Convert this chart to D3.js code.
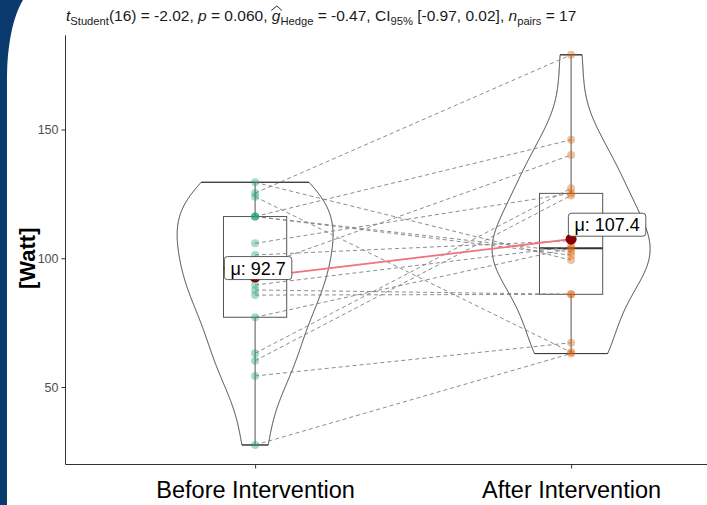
<!DOCTYPE html>
<html><head><meta charset="utf-8">
<script src="https://cdn.jsdelivr.net/npm/d3@7"></script>
<style>
body{margin:0;background:#fff;}
svg{display:block;font-family:"Liberation Sans",Arial,Helvetica,sans-serif;}
</style>
</head><body>
<svg id="chart" width="707" height="505"></svg>
<script>
// ---- data ----
const categories = ["Before Intervention", "After Intervention"];
const beforeValues = [129.5,125.3,123.9,116.2,116.2,116.2,105.8,101.3,96.3,89.6,87.7,85.7,77.1,63.1,60.2,54.3,27.5];
const afterValues  = [99.3,179.0,63.5,146.0,101.2,102.5,125.2,106.8,140.1,104.5,86.0,86.0,103.9,127.2,124.4,67.2,63.0];
const yTicks = [50, 100, 150];
const groupColors = ["#1b9e77", "#d95f02"];
const yTitle = "[Watt]";

const svg = d3.select("#chart");
const W = 707, H = 505;

// slide background (blue band with rounded white panel)
svg.append("rect").attr("width", W).attr("height", H).attr("fill", "#0b3a6e");
svg.append("path")
  .attr("d", `M7,${H} L7,78 C7,46 13,16 23,0 L${W},0 L${W},${H} Z`)
  .attr("fill", "#fff");

// ---- scales ----
const all = beforeValues.concat(afterValues);
const lo = d3.min(all), hi = d3.max(all), pad = (hi - lo) * 0.05;
const y = d3.scaleLinear().domain([lo - pad, hi + pad]).range([464.5, 35.3]);
const x = d3.scaleLinear().domain([0.4, 2.6]).range([65.5, 65.5 + 2.2 * 316]);

const groups = [beforeValues, afterValues];

// ---- violins ----
function nrd0(v) {
  const s = d3.deviation(v);
  const sorted = v.slice().sort(d3.ascending);
  const iqr = d3.quantileSorted(sorted, 0.75) - d3.quantileSorted(sorted, 0.25);
  return 0.9 * Math.min(s, iqr / 1.34) * Math.pow(v.length, -0.2);
}
function kde(v) {
  const bw = nrd0(v), mn = d3.min(v), mx = d3.max(v), n = 512;
  const out = [];
  for (let i = 0; i < n; i++) {
    const t = mn + (mx - mn) * i / (n - 1);
    let s = 0;
    for (const d of v) { const u = (t - d) / bw; s += Math.exp(-0.5 * u * u); }
    out.push({v: t, d: s / (v.length * bw * Math.sqrt(2 * Math.PI))});
  }
  return out;
}
const dens = groups.map(v => kde(v));
const maxD = d3.max(dens, g => d3.max(g, p => p.d));
const halfW = 0.25 * 316;
dens.forEach((g, i) => {
  const cx = x(i + 1);
  const area = d3.area()
    .y(p => y(p.v))
    .x0(p => cx - p.d / maxD * halfW)
    .x1(p => cx + p.d / maxD * halfW);
  svg.append("path").attr("d", area(g))
    .attr("fill", "none").attr("stroke", "#3a3a3a").attr("stroke-width", 1);
  const top = g[g.length - 1], bot = g[0];
  [top, bot].forEach(p => {
    svg.append("line").attr("x1", cx - p.d / maxD * halfW).attr("x2", cx + p.d / maxD * halfW)
      .attr("y1", y(p.v)).attr("y2", y(p.v)).attr("stroke", "#3a3a3a").attr("stroke-width", 1);
  });
});

// ---- boxplots ----
const boxHalf = 0.1 * 316;
groups.forEach((v, i) => {
  const s = v.slice().sort(d3.ascending);
  const q1 = d3.quantileSorted(s, 0.25), q2 = d3.quantileSorted(s, 0.5), q3 = d3.quantileSorted(s, 0.75);
  const iqr = q3 - q1;
  const wLo = d3.min(s.filter(d => d >= q1 - 1.5 * iqr));
  const wHi = d3.max(s.filter(d => d <= q3 + 1.5 * iqr));
  const cx = x(i + 1);
  const g = svg.append("g").attr("stroke", "#555").attr("stroke-width", 1).attr("fill", "none");
  g.append("line").attr("x1", cx).attr("x2", cx).attr("y1", y(wHi)).attr("y2", y(q3));
  g.append("line").attr("x1", cx).attr("x2", cx).attr("y1", y(q1)).attr("y2", y(wLo));
  g.append("rect").attr("x", cx - boxHalf).attr("width", 2 * boxHalf)
    .attr("y", y(q3)).attr("height", y(q1) - y(q3));
  g.append("line").attr("x1", cx - boxHalf).attr("x2", cx + boxHalf)
    .attr("y1", y(q2)).attr("y2", y(q2)).attr("stroke", "#333").attr("stroke-width", 1.8);
});

// ---- paired lines ----
svg.append("g").selectAll("line").data(beforeValues).join("line")
  .attr("x1", x(1)).attr("x2", x(2))
  .attr("y1", d => y(d)).attr("y2", (d, i) => y(afterValues[i]))
  .attr("stroke", "#7f7f7f").attr("stroke-width", 0.9)
  .attr("stroke-dasharray", "4,3");

// ---- points ----
groups.forEach((v, i) => {
  svg.append("g").selectAll("circle").data(v).join("circle")
    .attr("cx", x(i + 1)).attr("cy", d => y(d)).attr("r", 4)
    .attr("fill", groupColors[i]).attr("fill-opacity", 0.38);
});

// ---- axes ----
const axisColor = "#333";
const yAxis = svg.append("g").attr("transform", `translate(${x(0.4)},0)`)
  .call(d3.axisLeft(y).tickValues(yTicks).tickSize(4).tickPadding(3));
yAxis.select(".domain").attr("stroke", axisColor).attr("d", `M0,${y.range()[0]}V${y.range()[1]}`);
yAxis.selectAll(".tick line").attr("stroke", axisColor);
yAxis.selectAll(".tick text").attr("fill", "#4d4d4d").style("font-size", "12.5px")
  .style("font-family", "Liberation Sans, Arial, sans-serif");

const xAxis = svg.append("g").attr("transform", `translate(0,${y.range()[0]})`)
  .call(d3.axisBottom(x).tickValues([1, 2]).tickFormat(d => categories[d - 1]).tickSize(4).tickPadding(13));
xAxis.select(".domain").attr("stroke", axisColor).attr("d", `M${x(0.4)},0H${W + 5}`);
xAxis.selectAll(".tick line").attr("stroke", axisColor);
xAxis.selectAll(".tick text").attr("fill", "#000").style("font-size", "23.5px")
  .style("font-family", "Liberation Sans, Arial, sans-serif");

svg.append("text").attr("transform", `translate(35,${y(100)}) rotate(-90)`)
  .attr("text-anchor", "middle").style("font-size", "22px").style("font-weight", "bold")
  .text(yTitle);

// ---- means ----
const means = groups.map(v => d3.mean(v));
svg.append("line").attr("x1", x(1)).attr("x2", x(2))
  .attr("y1", y(means[0])).attr("y2", y(means[1]))
  .attr("stroke", "#f2737b").attr("stroke-width", 1.8);
svg.append("g").selectAll("circle").data(means).join("circle")
  .attr("cx", (d, i) => x(i + 1)).attr("cy", d => y(d)).attr("r", 5.5)
  .attr("fill", "#8b0000");

const labelOffsets = [[3, -9], [36, -14.5]];
means.forEach((m, i) => {
  const cx = x(i + 1) + labelOffsets[i][0], cy = y(m) + labelOffsets[i][1];
  const g = svg.append("g");
  const t = g.append("text").attr("x", cx).attr("y", cy).attr("text-anchor", "middle")
    .attr("dy", "0.36em").style("font-size", "18px").text("μ: " + m.toFixed(1));
  const w = t.node().getComputedTextLength();
  g.insert("rect", "text").attr("x", cx - w / 2 - 6).attr("y", cy - 11.5)
    .attr("width", w + 12).attr("height", 23).attr("rx", 3)
    .attr("fill", "#fff").attr("stroke", "#333").attr("stroke-width", 0.8);
});

// ---- title ----
const segs = [
  {t: "t", it: true}, {t: "Student", sub: true}, {t: "(16) = -2.02, "},
  {t: "p", it: true}, {t: " = 0.060, "},
  {t: "g", it: true, hat: true}, {t: "Hedge", sub: true}, {t: " = -0.47, CI"},
  {t: "95%", sub: true}, {t: " [-0.97, 0.02], "},
  {t: "n", it: true}, {t: "pairs", sub: true}, {t: " = 17"}
];
let tx = 66;
const baseY = 21;
segs.forEach(s => {
  const el = svg.append("text").attr("x", tx).attr("y", baseY + (s.sub ? 4 : 0))
    .style("font-size", s.sub ? "11.2px" : "15.5px")
    .style("font-style", s.it ? "italic" : "normal")
    .style("white-space", "pre")
    .attr("fill", "#1a1a1a")
    .text(s.t);
  const w = el.node().getComputedTextLength();
  if (s.hat) {
    svg.append("path")
      .attr("d", `M${tx - 0.5},${baseY - 10.5} L${tx + w / 2 + 0.8},${baseY - 15} L${tx + w + 1.5},${baseY - 10.5}`)
      .attr("fill", "none").attr("stroke", "#1a1a1a").attr("stroke-width", 0.9);
  }
  tx += w;
});
</script>
</body></html>
